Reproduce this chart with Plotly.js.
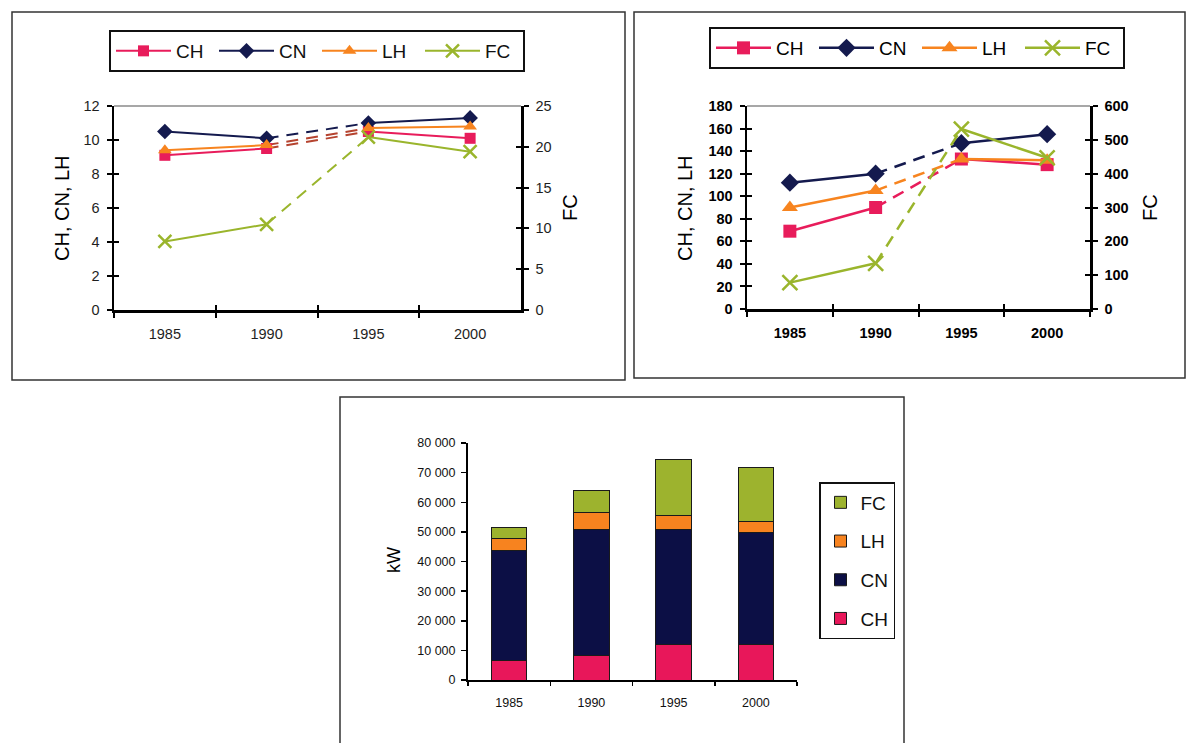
<!DOCTYPE html>
<html>
<head>
<meta charset="utf-8">
<script src="https://cdn.plot.ly/plotly-3.0.1.min.js"></script>
<style>
  html, body { margin: 0; padding: 0; background: #fff; }
  #chart { width: 1188px; height: 743px; }
</style>
</head>
<body>
<div id="chart"></div>
<script>
// Survey years (category axis)
const years = ['1985', '1990', '1995', '2000'];

// Panel A: specific indicators, CH/CN/LH on the left axis, FC on the right axis
const chA = [9.1, 9.5, 10.5, 10.1];
const cnA = [10.5, 10.1, 11.0, 11.3];
const lhA = [9.4, 9.7, 10.7, 10.8];
const fcA = [8.4, 10.5, 21.2, 19.4];

// Panel B: specific indicators, CH/CN/LH on the left axis, FC on the right axis
const chB = [69, 90, 133, 128];
const cnB = [112, 120, 147, 155];
const lhB = [90, 105, 133, 132];
const fcB = [78, 135, 532, 447];

// Panel C: installed power by type, kW (stacked)
const chKW = [6500, 8400, 12000, 12000];
const cnKW = [37100, 42400, 38800, 37700];
const lhKW = [4100, 5600, 4600, 3700];
const fcKW = [3800, 7400, 19100, 18500];

const seriesNames = ['CH', 'CN', 'LH', 'FC'];

// ---------------------------------------------------------------------------
const W = 1188, H = 743;
const px = v => v / W;          // pixel column -> paper x
const py = v => 1 - v / H;      // pixel row    -> paper y
const FONT = '"Liberation Sans", Arial, Helvetica, sans-serif';

const COL = {
  CH: '#e81c5b',
  CN: '#141a4e',
  LH: '#f7841f',
  FC: '#9ab52c',
  bridge: '#b5432f'
};

const SYM = { CH: 'square', CN: 'diamond', LH: 'triangle-up', FC: 'x-thin' };

// Invisible carrier trace so an overlay axis (inner tick halves) is rendered
function carrier(xa, ya, xv, yv) {
  return { type: 'scatter', mode: 'markers', x: [xv], y: [yv], xaxis: xa, yaxis: ya,
    marker: { opacity: 0, size: 1 }, showlegend: false, hoverinfo: 'skip' };
}

// Build the traces of one line panel: dashed bridges over the 1990-1995 gap,
// then the solid segments with markers.
function linePanel(cfg) {
  const out = [];
  cfg.series.forEach(s => {
    out.push({
      type: 'scatter', mode: 'lines',
      x: [years[1], years[2]], y: [s.y[1], s.y[2]],
      xaxis: cfg.xa, yaxis: s.right ? cfg.yr : cfg.yl,
      line: { color: s.bridge || COL[s.name], width: cfg.lw, dash: '12px,8px' },
      showlegend: false, hoverinfo: 'skip'
    });
  });
  cfg.series.forEach(s => {
    const isX = s.name === 'FC';
    out.push({
      type: 'scatter', mode: 'lines+markers', name: s.name,
      x: [years[0], years[1], null, years[2], years[3]],
      y: [s.y[0], s.y[1], null, s.y[2], s.y[3]],
      xaxis: cfg.xa, yaxis: s.right ? cfg.yr : cfg.yl,
      legend: cfg.legend,
      line: { color: COL[s.name], width: cfg.lw },
      marker: {
        symbol: SYM[s.name],
        size: isX ? cfg.ms + 1 : (s.name === 'CH' ? cfg.ms - 1 : cfg.ms),
        color: COL[s.name],
        line: isX ? { color: COL[s.name], width: 2.5 } : { width: 0 }
      }
    });
  });
  out.push(carrier(cfg.xin, cfg.yl, 0, 0));
  out.push(carrier(cfg.xa, cfg.ylin, years[0], 0));
  out.push(carrier(cfg.xa, cfg.yrin, years[0], 0));
  return out;
}

const traces = [].concat(
  linePanel({
    xa: 'x', yl: 'y', yr: 'y2', xin: 'x4', ylin: 'y6', yrin: 'y7',
    legend: 'legend', lw: 2, ms: 12,
    series: [
      { name: 'CH', y: chA, bridge: COL.bridge },
      { name: 'CN', y: cnA },
      { name: 'LH', y: lhA, bridge: COL.bridge },
      { name: 'FC', y: fcA, right: true }
    ]
  }),
  linePanel({
    xa: 'x2', yl: 'y3', yr: 'y4', xin: 'x5', ylin: 'y8', yrin: 'y9',
    legend: 'legend2', lw: 2.5, ms: 14,
    series: [
      { name: 'CH', y: chB },
      { name: 'CN', y: cnB },
      { name: 'LH', y: lhB },
      { name: 'FC', y: fcB, right: true }
    ]
  })
);

const stacks = { CH: chKW, CN: cnKW, LH: lhKW, FC: fcKW };
const barColors = { CH: '#e8175a', CN: '#0c0f45', LH: '#f7831f', FC: '#9db32e' };
seriesNames.forEach((n, i) => {
  traces.push({
    type: 'bar', name: n, x: years, y: stacks[n],
    xaxis: 'x3', yaxis: 'y5', legend: 'legend3', legendgroup: n,
    legendrank: 100 - i,
    marker: { color: barColors[n], line: { color: '#1a1a1a', width: 1 } },
    hoverinfo: 'skip'
  });
});

// ---------------------------------------------------------------------------
function catAxis(domain, anchor, font, standoff) {
  return {
    domain: domain, anchor: anchor, type: 'category',
    categoryorder: 'array', categoryarray: years, range: [-0.5, 3.5],
    tickson: 'boundaries', ticks: 'outside', ticklen: 5, tickwidth: 2, tickcolor: '#000',
    showline: true, linecolor: '#000', linewidth: 2.5,
    showgrid: false, zeroline: false, tickfont: font, ticklabelstandoff: standoff
  };
}
function valAxis(opts, font) {
  return Object.assign({
    ticks: 'outside', ticklen: 5, tickwidth: 2, tickcolor: '#000',
    showline: true, linecolor: '#000', linewidth: 2.5,
    showgrid: false, zeroline: false, tickfont: font, ticklabelstandoff: 4
  }, opts);
}
// Inner half of the crossing tick marks
function innerTicksX(overlay, anchor) {
  return {
    overlaying: overlay, anchor: anchor, side: 'bottom', range: [-0.5, 3.5],
    tickmode: 'array', tickvals: [-0.5, 0.5, 1.5, 2.5, 3.5],
    ticks: 'inside', ticklen: 5, tickwidth: 2, tickcolor: '#000',
    showticklabels: false, showline: false, showgrid: false, zeroline: false
  };
}
function innerTicksY(overlay, anchor, side, range, dtick) {
  return {
    overlaying: overlay, anchor: anchor, side: side, range: range, dtick: dtick,
    ticks: 'inside', ticklen: 5, tickwidth: 2, tickcolor: '#000',
    showticklabels: false, showline: false, showgrid: false, zeroline: false
  };
}

const fA = { family: FONT, size: 14.5, color: '#1e1e1e' };
const fB = { family: FONT, size: 14.5, color: '#000', weight: 'bold' };
const fC = { family: FONT, size: 12.5, color: '#111' };

const domA = { x: [px(114), px(521)], y: [py(310), py(106)] };
const domB = { x: [px(747), px(1090)], y: [py(309), py(106)] };
const domC = { x: [px(468), px(797)], y: [py(680), py(443)] };

const legendBase = {
  xanchor: 'left', yanchor: 'top', bgcolor: '#fff',
  bordercolor: '#111', borderwidth: 2
};

function axisTitle(text, x, y, size) {
  return { text: text, x: px(x), y: py(y), xref: 'paper', yref: 'paper',
    xanchor: 'center', yanchor: 'middle', textangle: -90, showarrow: false,
    font: { family: FONT, size: size, color: '#000' } };
}

const layout = {
  width: W, height: H,
  margin: { l: 0, r: 0, t: 0, b: 0 },
  paper_bgcolor: '#fff', plot_bgcolor: 'rgba(0,0,0,0)',
  font: { family: FONT, color: '#000' },
  separators: '. ',
  barmode: 'stack', bargap: 0.57,
  hovermode: false,

  // Panel A
  xaxis: catAxis(domA.x, 'y', fA, 9),
  yaxis: valAxis({ domain: domA.y, anchor: 'x', range: [0, 12], dtick: 2 }, fA),
  yaxis2: valAxis({ overlaying: 'y', anchor: 'x', side: 'right', range: [0, 25], dtick: 5 }, fA),
  xaxis4: innerTicksX('x', 'y'),
  yaxis6: innerTicksY('y', 'x', 'left', [0, 12], 2),
  yaxis7: innerTicksY('y', 'x', 'right', [0, 25], 5),

  // Panel B
  xaxis2: catAxis(domB.x, 'y3', fB, 9),
  yaxis3: valAxis({ domain: domB.y, anchor: 'x2', range: [0, 180], dtick: 20 }, fB),
  yaxis4: valAxis({ overlaying: 'y3', anchor: 'x2', side: 'right', range: [0, 600], dtick: 100 }, fB),
  xaxis5: innerTicksX('x2', 'y3'),
  yaxis8: innerTicksY('y3', 'x2', 'left', [0, 180], 20),
  yaxis9: innerTicksY('y3', 'x2', 'right', [0, 600], 100),

  // Panel C
  xaxis3: Object.assign(catAxis(domC.x, 'y5', fC, 10), { linewidth: 2, tickwidth: 1.5, ticklen: 4 }),
  yaxis5: valAxis({
    domain: domC.y, anchor: 'x3', range: [0, 80000], dtick: 10000, tickformat: ',d',
    linewidth: 2, tickwidth: 1.5, ticklen: 5, ticklabelstandoff: 3
  }, fC),

  legend: Object.assign({}, legendBase, {
    x: px(109), y: py(30), orientation: 'h', itemwidth: 55, entrywidth: 33,
    font: { family: FONT, size: 19, color: '#111' }
  }),
  legend2: Object.assign({}, legendBase, {
    x: px(709), y: py(27), orientation: 'h', itemwidth: 55, entrywidth: 33,
    font: { family: FONT, size: 19, color: '#000' }
  }),
  legend3: Object.assign({}, legendBase, {
    x: px(819), y: py(482), orientation: 'v', traceorder: 'grouped',
    tracegroupgap: 11, borderwidth: 1.5, itemwidth: 30,
    font: { family: FONT, size: 19, color: '#111' }
  }),

  annotations: [
    axisTitle('CH, CN, LH', 62, 208, 20),
    axisTitle('FC', 570, 208, 20),
    axisTitle('CH, CN, LH', 685, 208, 20),
    axisTitle('FC', 1150, 208, 20),
    axisTitle('kW', 394, 560, 18)
  ],

  shapes: [
    // panel frames
    { type: 'rect', xref: 'paper', yref: 'paper', x0: px(12), x1: px(625), y0: py(380), y1: py(12),
      line: { color: '#333', width: 1.5 } },
    { type: 'rect', xref: 'paper', yref: 'paper', x0: px(634), x1: px(1185), y0: py(378), y1: py(12),
      line: { color: '#333', width: 1.5 } },
    { type: 'rect', xref: 'paper', yref: 'paper', x0: px(340), x1: px(904), y0: py(760), y1: py(397),
      line: { color: '#333', width: 1.5 } },
    // top edge of the plot areas
    { type: 'line', xref: 'x domain', yref: 'y domain', x0: 0, x1: 1, y0: 1, y1: 1,
      line: { color: '#8a8a8a', width: 1.5 } },
    { type: 'line', xref: 'x2 domain', yref: 'y3 domain', x0: 0, x1: 1, y0: 1, y1: 1,
      line: { color: '#8a8a8a', width: 1.5 } }
  ]
};

Plotly.newPlot('chart', traces, layout, { staticPlot: true, displayModeBar: false });
</script>
</body>
</html>
